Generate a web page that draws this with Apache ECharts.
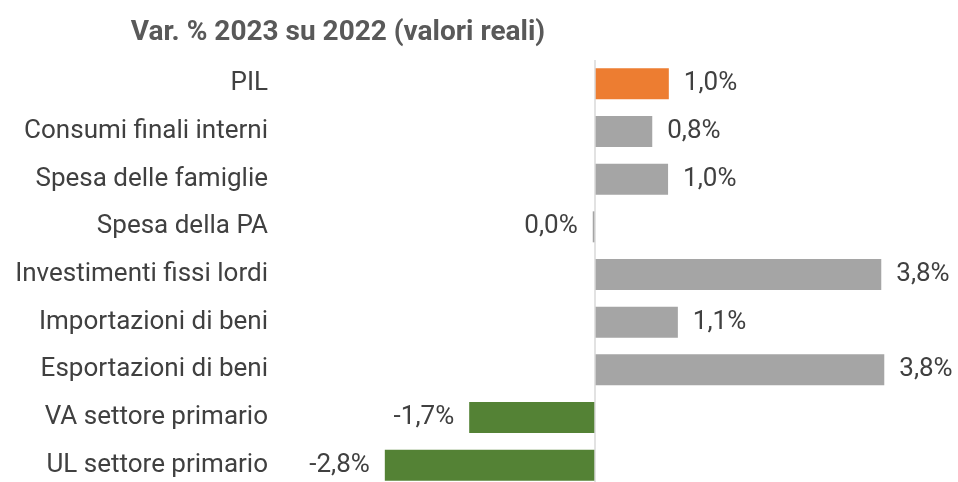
<!DOCTYPE html>
<html>
<head>
<meta charset="utf-8">
<script src="https://cdn.jsdelivr.net/npm/echarts@6/dist/echarts.min.js"></script>
<style>
  html, body { margin: 0; padding: 0; background: #fff; overflow: hidden; }
  #chart { width: 958px; height: 490px; }
</style>
</head>
<body>
<div id="chart"></div>
<script>
// Var. % 2023 su 2022 (valori reali)
const categories = [
  "PIL",
  "Consumi finali interni",
  "Spesa delle famiglie",
  "Spesa della PA",
  "Investimenti fissi lordi",
  "Importazioni di beni",
  "Esportazioni di beni",
  "VA settore primario",
  "UL settore primario"
];
const values = [0.98, 0.76, 0.97, -0.03, 3.80, 1.10, 3.84, -1.67, -2.79];
const groups = ["pil", "domanda", "domanda", "domanda", "domanda", "domanda", "domanda", "primario", "primario"];

const groupColor = { pil: "#ED7D31", domanda: "#A5A5A5", primario: "#548235" };

function fmt(v) {
  const r = Math.abs(v) < 0.05 ? 0 : v;
  return r.toFixed(1).replace(".", ",") + "%";
}

// the chart is a bit taller than the window: the last bar is cut at the bottom edge
const chart = echarts.init(document.getElementById("chart"));

chart.setOption({
  animation: false,
  textStyle: { fontFamily: "Roboto" },
  title: {
    text: "Var. % 2023 su 2022 (valori reali)",
    left: 333,
    textAlign: "center",
    top: 14,
    textStyle: { fontSize: 28, fontWeight: "bold", color: "#595959", fontFamily: "Roboto" }
  },
  grid: { left: 369, right: 24, top: 60, bottom: 1 },
  xAxis: {
    type: "value",
    min: -3,
    max: 4.5,
    show: false
  },
  yAxis: {
    type: "category",
    data: categories,
    inverse: true,
    axisLine: { show: false, onZero: false },
    axisTick: { show: false },
    axisLabel: { margin: 101, fontSize: 26, color: "#404040", fontFamily: "Roboto" }
  },
  series: [
    {
      type: "bar",
      barWidth: "65%",
      data: values.map((v, i) => ({
        value: v,
        itemStyle: { color: groupColor[groups[i]] },
        label: { position: v < 0 ? "left" : "right" }
      })),
      label: {
        show: true,
        distance: 15,
        fontSize: 26,
        color: "#404040",
        fontFamily: "Roboto",
        formatter: p => fmt(p.value)
      },
      markLine: {
        silent: true,
        symbol: "none",
        label: { show: false },
        lineStyle: { color: "#D9D9D9", type: "solid", width: 1.5 },
        data: [{ xAxis: 0 }]
      }
    }
  ]
});
</script>
</body>
</html>
